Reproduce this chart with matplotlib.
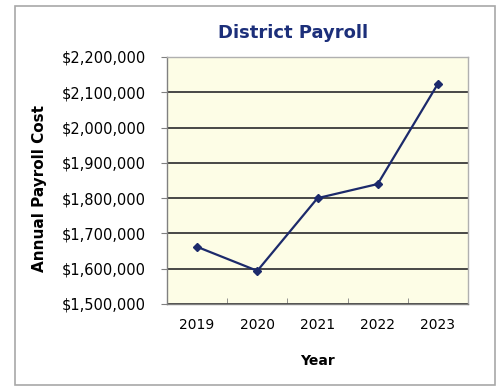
import matplotlib
matplotlib.use("Agg")
import matplotlib.pyplot as plt
from matplotlib.patches import Rectangle
from matplotlib.ticker import FuncFormatter, FixedLocator, NullFormatter

years = ["2019", "2020", "2021", "2022", "2023"]
payroll = [1662000, 1594000, 1800000, 1840000, 2124000]
y_ticks = [1500000, 1600000, 1700000, 1800000, 1900000, 2000000, 2100000, 2200000]

W, H = 499, 391
fig = plt.figure(figsize=(W / 100, H / 100), dpi=100)
fig.patch.set_facecolor("white")

# outer chart border
fig.patches.append(Rectangle((15 / W, 1 - 385 / H), (495 - 15) / W, (385 - 6) / H,
                             transform=fig.transFigure, fill=False,
                             edgecolor="#a8a8a8", linewidth=1.2))

ax = fig.add_axes([167 / W, 1 - 304 / H, 301 / W, (304 - 57) / H])
ax.set_facecolor("#fdfde6")

x = list(range(len(years)))
ax.plot(x, payroll, color="#1c2a6b", linewidth=1.6, marker="D", markersize=4.5,
        markerfacecolor="#1c2a6b", markeredgecolor="#1c2a6b", zorder=3)

ax.set_xlim(-0.5, len(years) - 0.5)
ax.set_ylim(1500000, 2200000)
ax.set_yticks(y_ticks)
ax.yaxis.set_major_formatter(FuncFormatter(lambda v, p: "${:,.0f}".format(v)))
ax.set_xticks(x)
ax.set_xticklabels(years)
ax.xaxis.set_minor_locator(FixedLocator([i - 0.5 for i in range(len(years) + 1)]))
ax.xaxis.set_minor_formatter(NullFormatter())
ax.tick_params(axis="x", which="major", length=0, pad=10, labelsize=10, colors="black")
ax.tick_params(axis="x", which="minor", length=4, direction="in", color="#808080")
ax.tick_params(axis="y", which="major", length=4, direction="out", color="#808080",
               labelsize=10.5, pad=11)

ax.grid(axis="y", color="#3a3a3a", linewidth=1.3)
ax.set_axisbelow(True)
for s in ["top", "right"]:
    ax.spines[s].set_color("#b0b0b0")
    ax.spines[s].set_linewidth(1.0)
for s in ["left", "bottom"]:
    ax.spines[s].set_color("#808080")
    ax.spines[s].set_linewidth(1.0)

fig.text(293 / W, 1 - 33 / H, "District Payroll", fontsize=13, fontweight="bold",
         color="#1c2f7a", ha="center", va="center")
ax.set_xlabel("Year", fontsize=10, fontweight="bold", labelpad=16)
fig.text(40 / W, 1 - 189 / H, "Annual Payroll Cost", rotation=90, fontsize=11,
         fontweight="bold", ha="center", va="center")

fig.savefig("out.png", dpi=100)
